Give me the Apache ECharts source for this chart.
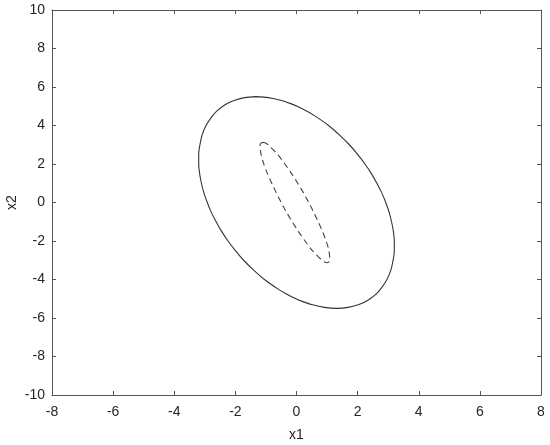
<!DOCTYPE html>
<html>
<head>
<meta charset="utf-8">
<script src="https://cdn.jsdelivr.net/npm/echarts@6/dist/echarts.min.js"></script>
<style>
  html, body { margin: 0; padding: 0; background: #fff; }
  #chart { width: 550px; height: 445px; }
</style>
</head>
<body>
<div id="chart"></div>
<script>
// outer ellipse (clockwise from the top)
const outerX = [-1.32, -0.92, -0.49, -0.21, 0.02, 0.33, 0.60, 1.05, 1.41, 1.73, 2.00, 2.24, 2.45, 2.63, 2.79, 2.92,
                3.03, 3.11, 3.17, 3.20, 3.20, 3.16, 3.09, 2.96, 2.75, 2.61, 2.41, 2.25, 2.04, 1.69, 1.32,
                0.92, 0.49, 0.21, -0.02, -0.33, -0.60, -1.05, -1.41, -1.73, -2.00, -2.24, -2.45, -2.63, -2.79, -2.92,
                -3.03, -3.11, -3.17, -3.20, -3.20, -3.16, -3.09, -2.96, -2.75, -2.61, -2.41, -2.25, -2.04, -1.69, -1.32];
const outerY = [5.50, 5.45, 5.30, 5.15, 5.00, 4.75, 4.50, 4.00, 3.50, 3.00, 2.50, 2.00, 1.50, 1.00, 0.50, 0.00,
                -0.50, -1.00, -1.50, -2.00, -2.50, -3.00, -3.50, -4.00, -4.50, -4.75, -5.00, -5.15, -5.30, -5.45, -5.50,
                -5.45, -5.30, -5.15, -5.00, -4.75, -4.50, -4.00, -3.50, -3.00, -2.50, -2.00, -1.50, -1.00, -0.50, 0.00,
                0.50, 1.00, 1.50, 2.00, 2.50, 3.00, 3.50, 4.00, 4.50, 4.75, 5.00, 5.15, 5.30, 5.45, 5.50];

// inner dashed ellipse
const innerX = [-1.10, -1.00, -0.93, -0.62, -0.38, -0.16, 0.04, 0.23, 0.40, 0.56, 0.71, 0.85, 0.97, 1.06, 1.09, 1.06,
                1.00, 0.90, 0.83, 0.52, 0.28, 0.06, -0.14, -0.33, -0.50, -0.66, -0.81, -0.95, -1.07, -1.16, -1.19, -1.16, -1.10];
const innerY = [3.13, 3.08, 3.00, 2.50, 2.00, 1.50, 1.00, 0.50, 0.00, -0.50, -1.00, -1.50, -2.00, -2.50, -3.00, -3.08,
                -3.13, -3.08, -3.00, -2.50, -2.00, -1.50, -1.00, -0.50, 0.00, 0.50, 1.00, 1.50, 2.00, 2.50, 3.00, 3.08, 3.13];

const xTicks = [-8, 8, 2];
const yTicks = [-10, 10, 2];

const zip = (xs, ys) => xs.map((x, i) => [x, ys[i]]);

const chart = echarts.init(document.getElementById('chart'));

const axisColor = '#555';
const textColor = '#262626';
const font = 'Liberation Sans, Arial, sans-serif';

const baseAxis = {
  type: 'value',
  axisLine: { show: true, onZero: false, lineStyle: { color: axisColor, width: 1 } },
  axisTick: { show: true, inside: true, length: 4, lineStyle: { color: axisColor } },
  splitLine: { show: false },
  axisLabel: { color: textColor, fontSize: 14, fontFamily: font }
};

chart.setOption({
  animation: false,
  grid: { left: 52, right: 9, top: 10, bottom: 50, containLabel: false, outerBoundsMode: 'none' },
  xAxis: [
    Object.assign({}, baseAxis, {
      min: xTicks[0], max: xTicks[1], interval: xTicks[2],
      name: 'x1', nameLocation: 'middle', nameGap: 33, nameMoveOverlap: false,
      nameTextStyle: { color: textColor, fontSize: 14, fontFamily: font },
      axisLabel: Object.assign({}, baseAxis.axisLabel, { margin: 10 })
    }),
    Object.assign({}, baseAxis, {
      position: 'top',
      min: xTicks[0], max: xTicks[1], interval: xTicks[2],
      axisLabel: { show: false }
    })
  ],
  yAxis: [
    Object.assign({}, baseAxis, {
      min: yTicks[0], max: yTicks[1], interval: yTicks[2],
      name: 'x2', nameLocation: 'middle', nameGap: 33, nameMoveOverlap: false,
      nameTextStyle: { color: textColor, fontSize: 14, fontFamily: font },
      axisLabel: Object.assign({}, baseAxis.axisLabel, { margin: 7 })
    }),
    Object.assign({}, baseAxis, {
      position: 'right',
      min: yTicks[0], max: yTicks[1], interval: yTicks[2],
      axisLabel: { show: false }
    })
  ],
  series: [
    {
      type: 'line',
      data: zip(outerX, outerY),
      smooth: 0.3,
      showSymbol: false,
      lineStyle: { color: '#333', width: 1.1 }
    },
    {
      type: 'line',
      data: zip(innerX, innerY),
      smooth: 0.3,
      showSymbol: false,
      lineStyle: { color: '#444', width: 1.1, type: [6, 4] }
    }
  ]
});
</script>
</body>
</html>
